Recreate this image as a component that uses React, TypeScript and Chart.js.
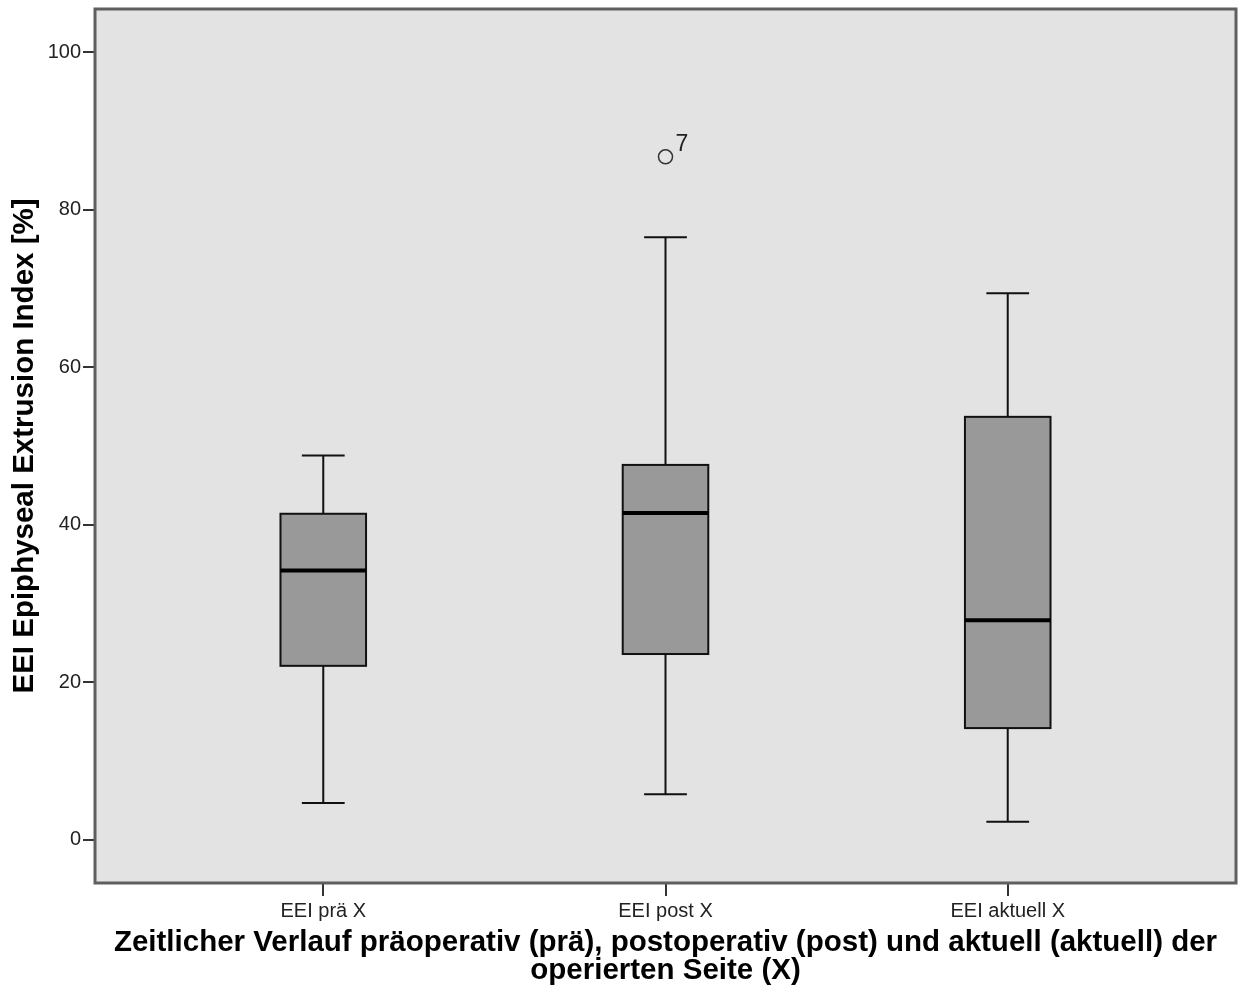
import React, { useEffect, useRef } from "react";
import { Chart, registerables } from "chart.js";

Chart.register(...registerables);

const categories = ["EEI prä X", "EEI post X", "EEI aktuell X"];
const whiskerLow = [4.7, 5.8, 2.3];
const q1 = [22.1, 23.6, 14.2];
const median = [34.2, 41.5, 27.9];
const q3 = [41.4, 47.6, 53.7];
const whiskerHigh = [48.8, 76.5, 69.4];
const outlierCategory = [1];
const outlierValues = [86.7];
const outlierLabels = ["7"];
const yTicks = [0, 20, 40, 60, 80, 100];

const yTitle = "EEI Epiphyseal Extrusion Index [%]";
const xTitle = [
  "Zeitlicher Verlauf präoperativ (prä), postoperativ (post) und aktuell (aktuell) der",
  "operierten Seite (X)",
];

const FONT = "'Liberation Sans', Arial, Helvetica, sans-serif";
const BOX_HALF = 0.125;
const CAP_HALF = 0.0625;

const boxPlugin = {
  id: "boxPlugin",
  beforeDraw(chart: any) {
    const { ctx, chartArea } = chart;
    ctx.save();
    ctx.fillStyle = "#e3e3e3";
    ctx.fillRect(chartArea.left, chartArea.top, chartArea.right - chartArea.left, chartArea.bottom - chartArea.top);
    ctx.restore();
  },
  beforeDatasetsDraw(chart: any) {
    const { ctx } = chart;
    const xs = chart.scales.x;
    const ys = chart.scales.y;
    ctx.save();
    categories.forEach((_, i) => {
      const cx = xs.getPixelForValue(i);
      const bl = xs.getPixelForValue(i - BOX_HALF);
      const br = xs.getPixelForValue(i + BOX_HALF);
      const cl = xs.getPixelForValue(i - CAP_HALF);
      const cr = xs.getPixelForValue(i + CAP_HALF);
      const yLo = ys.getPixelForValue(whiskerLow[i]);
      const yQ1 = ys.getPixelForValue(q1[i]);
      const yMed = ys.getPixelForValue(median[i]);
      const yQ3 = ys.getPixelForValue(q3[i]);
      const yHi = ys.getPixelForValue(whiskerHigh[i]);

      ctx.strokeStyle = "#111";
      ctx.lineWidth = 2;
      ctx.beginPath();
      ctx.moveTo(cx, yLo);
      ctx.lineTo(cx, yQ1);
      ctx.moveTo(cx, yQ3);
      ctx.lineTo(cx, yHi);
      ctx.moveTo(cl, yLo);
      ctx.lineTo(cr, yLo);
      ctx.moveTo(cl, yHi);
      ctx.lineTo(cr, yHi);
      ctx.stroke();

      ctx.fillStyle = "#999999";
      ctx.fillRect(bl, yQ3, br - bl, yQ1 - yQ3);
      ctx.strokeRect(bl, yQ3, br - bl, yQ1 - yQ3);

      ctx.lineWidth = 4;
      ctx.strokeStyle = "#000";
      ctx.beginPath();
      ctx.moveTo(bl, yMed);
      ctx.lineTo(br, yMed);
      ctx.stroke();
    });
    ctx.restore();
  },
  afterDraw(chart: any) {
    const { ctx, chartArea } = chart;
    const xs = chart.scales.x;
    const ys = chart.scales.y;
    ctx.save();
    ctx.fillStyle = "#222";
    ctx.font = `23px ${FONT}`;
    ctx.textAlign = "left";
    ctx.textBaseline = "alphabetic";
    outlierValues.forEach((v, k) => {
      const px = xs.getPixelForValue(outlierCategory[k]);
      const py = ys.getPixelForValue(v);
      ctx.fillText(outlierLabels[k], px + 10, py - 6);
    });
    ctx.strokeStyle = "#5f5f5f";
    ctx.lineWidth = 3;
    ctx.strokeRect(chartArea.left, chartArea.top, chartArea.right - chartArea.left, chartArea.bottom - chartArea.top);
    ctx.restore();
  },
};

export default function App() {
  const ref = useRef<HTMLCanvasElement | null>(null);

  useEffect(() => {
    if (!ref.current) return;
    const chart = new Chart(ref.current, {
      type: "scatter",
      data: {
        datasets: [
          {
            data: outlierValues.map((v, k) => ({ x: outlierCategory[k], y: v })),
            pointRadius: 7,
            pointBorderWidth: 1.5,
            borderColor: "#333",
            backgroundColor: "rgba(0,0,0,0)",
            pointStyle: "circle",
          },
        ],
      },
      options: {
        animation: false,
        responsive: false,
        devicePixelRatio: 1,
        layout: { autoPadding: false, padding: { top: 9, right: 5, left: 0, bottom: 0 } },
        plugins: {
          legend: { display: false },
          tooltip: { enabled: false },
        },
        scales: {
          x: {
            type: "linear",
            position: "bottom",
            min: -0.667,
            max: 2.667,
            afterBuildTicks: (scale: any) => {
              scale.ticks = categories.map((_, i) => ({ value: i }));
            },
            afterFit: (scale: any) => {
              scale.height = 109;
              scale.paddingLeft = 0;
              scale.paddingRight = 0;
            },
            ticks: {
              autoSkip: false,
              maxRotation: 0,
              padding: 3,
              color: "#222",
              font: { family: FONT, size: 20 },
              callback: (v: any) => categories[Math.round(Number(v))] ?? "",
            },
            grid: { drawOnChartArea: false, drawTicks: true, tickLength: 13, color: "#333", lineWidth: 2 },
            border: { display: false },
            title: {
              display: true,
              text: xTitle,
              color: "#000",
              font: { family: FONT, size: 29.5, weight: "bold", lineHeight: 0.95 },
              padding: { top: 0, bottom: 7 },
            },
          },
          y: {
            type: "linear",
            min: -5.46,
            max: 105.46,
            afterBuildTicks: (scale: any) => {
              scale.ticks = yTicks.map((v) => ({ value: v }));
            },
            afterFit: (scale: any) => {
              scale.width = 95;
              scale.paddingTop = 0;
              scale.paddingBottom = 0;
            },
            ticks: {
              padding: 2,
              color: "#222",
              font: { family: FONT, size: 20 },
              callback: (v: any) => String(v),
            },
            grid: { drawOnChartArea: false, drawTicks: true, tickLength: 12, color: "#333", lineWidth: 2 },
            border: { display: false },
            title: {
              display: true,
              text: yTitle,
              color: "#000",
              font: { family: FONT, size: 29.5, weight: "bold" },
              padding: { top: 7, bottom: 0 },
            },
          },
        },
      } as any,
      plugins: [boxPlugin],
    });
    return () => chart.destroy();
  }, []);

  return (
    <div style={{ position: "absolute", left: 0, top: 0, width: 1241, height: 992, background: "#fff" }}>
      <canvas ref={ref} width={1241} height={992} style={{ display: "block" }} />
    </div>
  );
}
